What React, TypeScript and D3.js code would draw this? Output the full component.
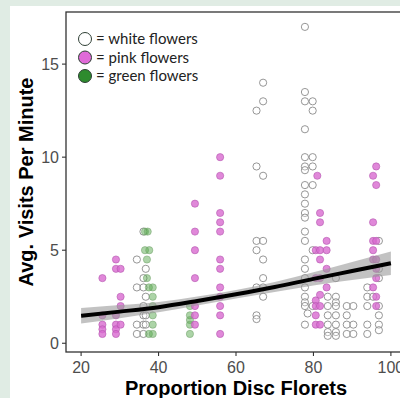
import React from 'react';
import * as d3 from 'd3';

// [proportion disc florets, avg visits per minute]
const whiteFlowers: [number, number][] = [
  [34.4, 4.5], [34.4, 3.0], [34.4, 1.0], [34.4, 0.5],
  [36.1, 6.0], [36.1, 3.5], [36.1, 3.0], [36.1, 2.0], [36.1, 1.5], [36.1, 1.0], [36.1, 0.5],
  [36.7, 4.0], [36.7, 2.5], [36.7, 1.5], [36.7, 1.0],
  [65.3, 12.5], [65.3, 9.5], [65.3, 5.5], [65.3, 5.0], [65.3, 3.0], [65.3, 1.5], [65.3, 1.3],
  [67.0, 14.0], [67.0, 13.0], [67.0, 9.0], [67.0, 5.5], [67.0, 4.5], [67.0, 3.5], [67.0, 3.0], [67.0, 2.5],
  [77.8, 17.0], [77.8, 13.5], [77.8, 13.0], [77.8, 11.5], [77.8, 10.0], [77.8, 9.5], [77.8, 9.3],
  [77.8, 8.5], [77.8, 8.0], [77.8, 7.5], [77.8, 7.0], [77.8, 6.75], [77.8, 6.0], [77.8, 5.5],
  [77.8, 4.5], [77.8, 4.0], [77.8, 3.5], [77.8, 3.0], [77.8, 2.5], [77.8, 2.2], [77.8, 2.0], [78.5, 1.6], [77.8, 1.0],
  [79.8, 13.0], [79.8, 12.5], [79.8, 10.0], [79.8, 9.5], [79.8, 8.5], [79.8, 5.0], [79.8, 2.0],
  [83.7, 2.5], [83.7, 2.0], [83.7, 1.5], [83.7, 1.0], [83.7, 0.6], [83.7, 0.4],
  [85.8, 3.5], [85.8, 2.5], [85.8, 2.2], [85.8, 2.0], [85.8, 1.5], [85.8, 1.0], [85.8, 0.6], [85.8, 0.4],
  [88.6, 2.0], [88.6, 1.5], [88.6, 1.0], [88.6, 0.5],
  [90.3, 2.0], [90.3, 1.0], [90.3, 0.5],
  [93.9, 3.0], [93.9, 2.5], [93.9, 2.0], [93.9, 1.0], [93.9, 0.5],
  [95.4, 2.5],
  [96.9, 5.5], [96.9, 4.0], [96.9, 3.5], [96.9, 2.0], [96.9, 1.5], [96.9, 1.0], [96.9, 0.7],
];

const pinkFlowers: [number, number][] = [
  [25.5, 3.5], [25.5, 1.5], [25.5, 1.0], [25.5, 0.75], [25.5, 0.5],
  [29.0, 4.5], [29.0, 4.0], [29.0, 1.5], [29.0, 1.0], [29.0, 0.75], [29.0, 0.5],
  [30.2, 4.0], [30.2, 2.5], [30.2, 2.0], [30.2, 1.0],
  [49.4, 7.5], [49.4, 6.0], [49.4, 5.0], [49.4, 3.5], [49.4, 2.0], [49.4, 1.5], [49.4, 1.0],
  [55.9, 10.0], [55.9, 9.0], [55.9, 7.0], [55.9, 6.5], [55.9, 6.0], [55.9, 4.5], [55.9, 4.0],
  [55.9, 3.0], [55.9, 2.5], [55.9, 2.0], [55.9, 1.5], [55.9, 0.5],
  [81.0, 9.0],
  [80.6, 5.0], [80.6, 3.5], [80.6, 2.3], [80.6, 2.0], [80.6, 1.5], [80.6, 1.0],
  [81.7, 7.0], [81.7, 6.5], [81.7, 5.0], [81.7, 4.5], [81.7, 3.5], [81.7, 2.6], [81.7, 2.0], [81.7, 1.0],
  [83.4, 5.5], [83.4, 5.0], [83.4, 4.0], [83.4, 3.0],
  [95.4, 9.0], [95.4, 6.5], [95.4, 5.5], [95.4, 5.0], [95.4, 4.5], [95.4, 3.0],
  [96.2, 9.5], [96.2, 8.5], [96.2, 5.5], [96.2, 4.5], [96.2, 4.0], [96.2, 3.5], [96.2, 2.5], [96.2, 2.0],
];

const greenFlowers: [number, number][] = [
  [36.5, 6.0], [37.2, 6.0],
  [36.5, 5.0], [37.6, 5.0],
  [37.0, 4.5], [37.0, 3.5],
  [37.5, 3.0], [38.5, 3.0], [38.5, 2.5], [38.5, 2.0], [38.5, 1.5], [38.5, 1.0], [37.5, 0.5], [38.5, 0.5],
  [48.1, 2.0], [48.1, 1.5], [48.1, 1.25], [48.1, 1.0], [48.1, 0.5],
];

// fitted trend with confidence band
const fitX = [20, 30, 40, 50, 60, 70, 80, 90, 100];
const fitY = [1.48, 1.70, 1.94, 2.27, 2.63, 3.02, 3.46, 3.88, 4.3];
const fitLow = [1.06, 1.35, 1.66, 2.03, 2.40, 2.75, 3.11, 3.40, 3.67];
const fitHigh = [1.90, 2.05, 2.22, 2.51, 2.86, 3.29, 3.81, 4.36, 4.93];

const xTicks = [20, 40, 60, 80, 100];
const yTicks = [0, 5, 10, 15];

const legendItems = [
  { label: '= white flowers', fill: '#ffffff' },
  { label: '= pink flowers', fill: '#e06ad8' },
  { label: '= green flowers', fill: '#2e8b2e' },
];

const W = 400;
const H = 398;
const panel = { left: 66, right: 406, top: 12, bottom: 352 };

export default function App() {
  const x = d3.scaleLinear().domain([16.1, 103.9]).range([panel.left, panel.right]);
  const y = d3.scaleLinear().domain([-0.47, 17.8]).range([panel.bottom, panel.top]);

  const fit = fitX.map((v, i) => ({ x: v, y: fitY[i], lo: fitLow[i], hi: fitHigh[i] }));
  const line = d3.line<any>().x(d => x(d.x)).y(d => y(d.y)).curve(d3.curveMonotoneX);
  const band = d3.area<any>().x(d => x(d.x)).y0(d => y(d.lo)).y1(d => y(d.hi)).curve(d3.curveMonotoneX);

  const axisFont = '"Liberation Sans", Arial, sans-serif';

  return (
    <svg width={W} height={H} style={{ position: 'absolute', left: 0, top: 0, display: 'block' }}>
      <rect x={0} y={0} width={W} height={H} fill="#e0ece4" />
      <rect x={10} y={6} width={W} height={H} fill="#ffffff" />
      <defs>
        <clipPath id="panel-clip">
          <rect x={panel.left} y={panel.top} width={panel.right - panel.left} height={panel.bottom - panel.top} />
        </clipPath>
      </defs>

      <g clipPath="url(#panel-clip)">
        {whiteFlowers.map((d, i) => (
          <circle key={'w' + i} cx={x(d[0])} cy={y(d[1])} r={3.6}
            fill="#ffffff" fillOpacity={0.3} stroke="#8a8a8a" strokeWidth={0.9} />
        ))}
        {greenFlowers.map((d, i) => (
          <circle key={'g' + i} cx={x(d[0])} cy={y(d[1])} r={3.6}
            fill="#5aaa50" fillOpacity={0.5} stroke="#7aa874" strokeWidth={0.6} />
        ))}
        {pinkFlowers.map((d, i) => (
          <circle key={'p' + i} cx={x(d[0])} cy={y(d[1])} r={3.6}
            fill="#d86ad0" fillOpacity={0.8} stroke="#b455ae" strokeWidth={0.6} />
        ))}
        <path d={band(fit) || ''} fill="#999999" fillOpacity={0.6} />
        <path d={line(fit) || ''} fill="none" stroke="#000000" strokeWidth={4} />
      </g>

      {/* panel border */}
      <rect x={panel.left} y={panel.top} width={panel.right - panel.left} height={panel.bottom - panel.top}
        fill="none" stroke="#333333" strokeWidth={1.3} />

      {/* y axis */}
      {yTicks.map(t => (
        <g key={'yt' + t}>
          <line x1={panel.left - 4} x2={panel.left} y1={y(t)} y2={y(t)} stroke="#333333" strokeWidth={1.1} />
          <text x={panel.left - 7} y={y(t)} dy="0.36em" textAnchor="end" fontFamily={axisFont}
            fontSize={16} fill="#4d4d4d">{t}</text>
        </g>
      ))}

      {/* x axis */}
      {xTicks.map(t => (
        <g key={'xt' + t}>
          <line x1={x(t)} x2={x(t)} y1={panel.bottom} y2={panel.bottom + 4} stroke="#333333" strokeWidth={1.1} />
          <text x={x(t)} y={373} textAnchor="middle" fontFamily={axisFont}
            fontSize={16} fill="#4d4d4d">{t}</text>
        </g>
      ))}

      <text x={(panel.left + panel.right) / 2} y={395} textAnchor="middle" fontFamily={axisFont}
        fontSize={20} fontWeight="bold" fill="#000000">Proportion Disc Florets</text>
      <text transform={`translate(33,${(panel.top + panel.bottom) / 2}) rotate(-90)`} textAnchor="middle"
        fontFamily={axisFont} fontSize={20} fontWeight="bold" fill="#000000">Avg. Visits Per Minute</text>

      {/* legend */}
      {legendItems.map((d, i) => (
        <g key={d.label} transform={`translate(85,${39 + i * 18.5})`}>
          <circle cx={0} cy={0} r={6.5} fill={d.fill} stroke="#2f3f35" strokeWidth={1} />
          <text x={11} y={0} dy="0.35em" fontFamily="Lato, sans-serif" fontSize={15} fill="#222222">{d.label}</text>
        </g>
      ))}
    </svg>
  );
}
